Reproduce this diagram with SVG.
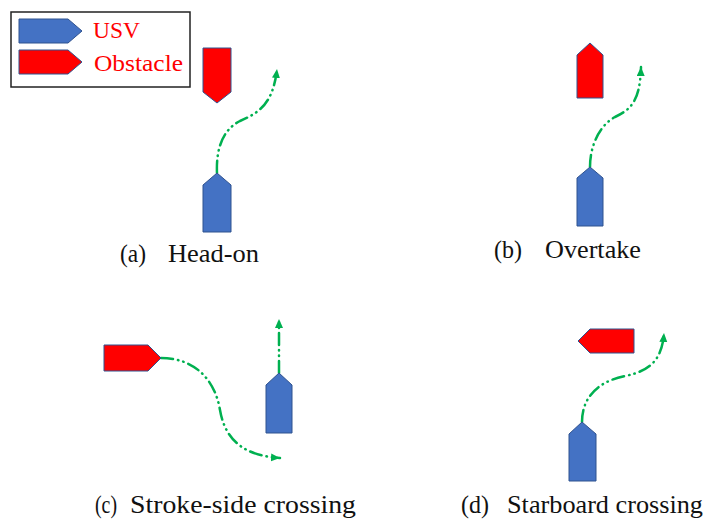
<svg xmlns="http://www.w3.org/2000/svg" width="705" height="522" viewBox="0 0 705 522">
<defs>
<style>
.usv{fill:#4472C4;stroke:#2F528F;stroke-width:1}
.obs{fill:#FF0000;stroke:#2F528F;stroke-width:1}
.path{fill:none;stroke:#00B050;stroke-width:2.5;stroke-dasharray:12 5 0.5 5 0.5 5;stroke-linecap:round;marker-end:url(#arr)}
.lbl{font-family:"Liberation Serif","Times New Roman",serif;font-size:25px;fill:#111}
.leg{font-family:"Liberation Serif","Times New Roman",serif;font-size:24px;fill:#FF0000}
</style>
<marker id="arr" markerUnits="userSpaceOnUse" markerWidth="10" markerHeight="10" refX="9" refY="4" orient="auto">
<path d="M0,0 L9,4 L0,8 z" fill="#00B050"/>
</marker>
</defs>
<rect width="705" height="522" fill="#fff"/>
<g id="legend">
<rect x="11" y="12" width="179" height="75" fill="#fff" stroke="#222" stroke-width="1.5"/>
<polygon class="usv" points="19,19 68,19 82,31 68,43 19,43"/>
<polygon class="obs" points="19,50 68,50 82,62 68,74 19,74"/>
<text class="leg" x="93" y="38" textLength="47" lengthAdjust="spacingAndGlyphs">USV</text>
<text class="leg" x="94" y="71" textLength="89" lengthAdjust="spacingAndGlyphs">Obstacle</text>
</g>
<g id="connectors">
<path class="path" d="M217,173 C216,150 222,130 240,121 C258,113 273,105 277,69"/>
<path class="path" d="M590,167 C590,145 600,125 615,117 C632,109 640,100 641,67"/>
<path class="path" d="M279,373 L279,319"/>
<path class="path" d="M161,358 C195,358 215,380 220,410 C226,445 250,456 280,458"/>
<path class="path" d="M582,422 C582,400 595,382 625,376 C650,371 662,360 664,333"/>
</g>
<g id="a-obstacle"><polygon class="obs" points="203,48 231,48 231,92 217,103 203,92"/></g>
<g id="a-usv"><polygon class="usv" points="217,173 231,185 231,232 203,232 203,185"/></g>
<g id="b-obstacle"><polygon class="obs" points="590,43 603,55 603,98 577,98 577,55"/></g>
<g id="b-usv"><polygon class="usv" points="590,167 603,178 603,226 577,226 577,178"/></g>
<g id="c-obstacle"><polygon class="obs" points="104,345 148,345 161,358 148,371 104,371"/></g>
<g id="c-usv"><polygon class="usv" points="279,373 292,385 292,433 266,433 266,385"/></g>
<g id="d-obstacle"><polygon class="obs" points="578,341 590,329 634,329 634,353 590,353"/></g>
<g id="d-usv"><polygon class="usv" points="582,422 596,434 596,481 569,481 569,434"/></g>
<g id="labels">
<text class="lbl" x="120" y="262" textLength="26" lengthAdjust="spacingAndGlyphs">(a)</text>
<text class="lbl" x="168" y="262" textLength="91" lengthAdjust="spacingAndGlyphs">Head-on</text>
<text class="lbl" x="494" y="258" textLength="28" lengthAdjust="spacingAndGlyphs">(b)</text>
<text class="lbl" x="545" y="258" textLength="96" lengthAdjust="spacingAndGlyphs">Overtake</text>
<text class="lbl" x="95" y="513" textLength="22" lengthAdjust="spacingAndGlyphs">(c)</text>
<text class="lbl" x="130" y="513" textLength="226" lengthAdjust="spacingAndGlyphs">Stroke-side crossing</text>
<text class="lbl" x="461" y="513" textLength="28" lengthAdjust="spacingAndGlyphs">(d)</text>
<text class="lbl" x="507" y="513" textLength="196" lengthAdjust="spacingAndGlyphs">Starboard crossing</text>
</g>
</svg>
